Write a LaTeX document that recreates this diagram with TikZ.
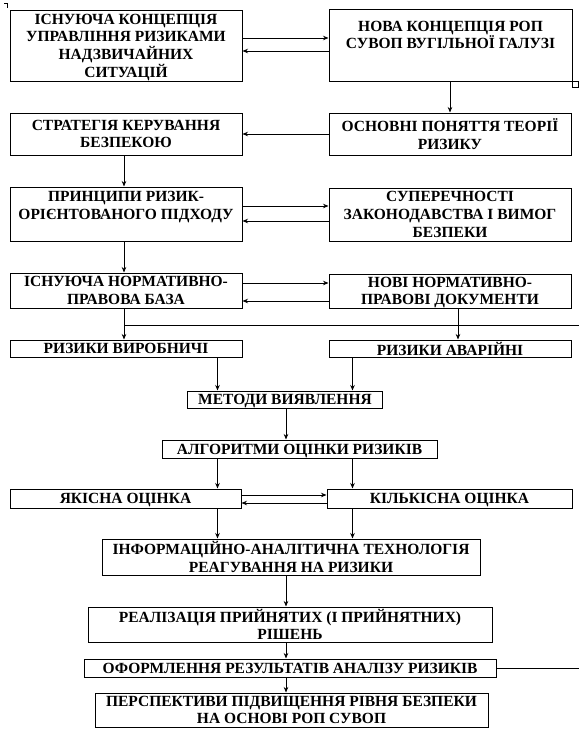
\documentclass[tikz,border=0pt]{standalone}
\usepackage{fontspec}
\setmainfont{Liberation Serif}
\usetikzlibrary{arrows.meta}
\tikzstyle{block} = [rectangle, draw=black, line width=1pt, inner sep=0pt, align=center, text depth=0pt, font=\fontsize{15.5}{17.7}\selectfont\bfseries]
\tikzstyle{arrow} = [line width=0.8pt, -{Stealth[length=5.5pt,width=4.5pt]}]
\tikzstyle{line} = [line width=0.8pt]

\begin{document}
\begin{tikzpicture}[x=1pt, y=-1pt]
        \useasboundingbox (0,0) rectangle (579,729);
        % Columns for the vertical connectors
        \coordinate (colA) at (124,0);
        \coordinate (colN) at (450,0);
        \coordinate (colD) at (458,0);
        \coordinate (colL) at (217.5,0);
        \coordinate (colR) at (352.5,0);
        \coordinate (colM) at (286,0);
        \coordinate (rightA) at (579,325);
        \coordinate (rightB) at (579,668);

        % Nodes
        \node (exist) [block, minimum width=232pt, minimum height=71pt] at (126,45.5) {ІСНУЮЧА КОНЦЕПЦІЯ\\УПРАВЛІННЯ РИЗИКАМИ\\НАДЗВИЧАЙНИХ\\СИТУАЦІЙ};
        \node (newc) [block, minimum width=243pt, minimum height=72pt] at (450.5,45) {НОВА КОНЦЕПЦІЯ РОП\\СУВОП ВУГІЛЬНОЇ ГАЛУЗІ\\[2.5pt]};
        \node (strat) [block, minimum width=232pt, minimum height=42pt] at (126,134) {СТРАТЕГІЯ КЕРУВАННЯ\\БЕЗПЕКОЮ};
        \node (basic) [block, minimum width=242pt, minimum height=42pt] at (450,134) {ОСНОВНІ ПОНЯТТЯ ТЕОРІЇ\\РИЗИКУ};
        \node (princ) [block, minimum width=232pt, minimum height=54pt] at (126,214) {ПРИНЦИПИ РИЗИК-\\ОРІЄНТОВАНОГО ПІДХОДУ\\ \mbox{}};
        \node (contr) [block, minimum width=242pt, minimum height=53pt] at (450,214.5) {СУПЕРЕЧНОСТІ\\ЗАКОНОДАВСТВА І ВИМОГ\\БЕЗПЕКИ};
        \node (base) [block, minimum width=232pt, minimum height=35pt] at (126,290.5) {ІСНУЮЧА НОРМАТИВНО-\\ПРАВОВА БАЗА};
        \node (newdoc) [block, minimum width=242pt, minimum height=34pt] at (450,291) {НОВІ НОРМАТИВНО-\\ПРАВОВІ ДОКУМЕНТИ};
        \node (prod) [block, minimum width=232pt, minimum height=17pt] at (126,348.5) {РИЗИКИ ВИРОБНИЧІ};
        \node (accid) [block, minimum width=242pt, minimum height=17pt] at (450,348.5) {РИЗИКИ АВАРІЙНІ};
        \node (meth) [block, minimum width=195pt, minimum height=17pt] at (285,399.5) {МЕТОДИ ВИЯВЛЕННЯ};
        \node (algo) [block, minimum width=275pt, minimum height=18pt] at (299.5,449) {АЛГОРИТМИ ОЦІНКИ РИЗИКІВ};
        \node (qual) [block, minimum width=231pt, minimum height=19pt] at (125.5,498.5) {ЯКІСНА ОЦІНКА};
        \node (quant) [block, minimum width=245pt, minimum height=19pt] at (449.5,498.5) {КІЛЬКІСНА ОЦІНКА};
        \node (info) [block, minimum width=378pt, minimum height=36pt] at (291,557) {ІНФОРМАЦІЙНО-АНАЛІТИЧНА ТЕХНОЛОГІЯ\\РЕАГУВАННЯ НА РИЗИКИ};
        \node (impl) [block, minimum width=404pt, minimum height=35pt] at (290,624.5) {РЕАЛІЗАЦІЯ ПРИЙНЯТИХ (І ПРИЙНЯТНИХ)\\РІШЕНЬ};
        \node (report) [block, minimum width=412pt, minimum height=18pt] at (290,668) {ОФОРМЛЕННЯ РЕЗУЛЬТАТІВ АНАЛІЗУ РИЗИКІВ};
        \node (persp) [block, minimum width=393pt, minimum height=34pt] at (291.5,710) {ПЕРСПЕКТИВИ ПІДВИЩЕННЯ РІВНЯ БЕЗПЕКИ\\НА ОСНОВІ РОП СУВОП};
        \node (handle) [draw, line width=0.8pt, minimum size=6pt, inner sep=0pt] at (575,84.5) {};
        \draw [line] (4,3) -- (7,3) -- (7,8);

        % Arrows
        \draw [arrow] ([yshift=7.5pt]exist.east) -- ([yshift=7.5pt]exist.east -| newc.west);
        \draw [arrow] ([yshift=-5.5pt]exist.east -| newc.west) -- ([yshift=-5.5pt]exist.east);
        \draw [arrow] (newc.south -| colN) -- (basic.north -| colN);
        \draw [arrow] (basic) -- (strat);
        \draw [arrow] (strat.south -| colA) -- (princ.north -| colA);
        \draw [arrow] ([yshift=8pt]princ.east) -- ([yshift=8pt]princ.east -| contr.west);
        \draw [arrow] ([yshift=-7pt]princ.east -| contr.west) -- ([yshift=-7pt]princ.east);
        \draw [arrow] (princ.south -| colA) -- (base.north -| colA);
        \draw [arrow] ([yshift=7.5pt]base.east) -- ([yshift=7.5pt]base.east -| newdoc.west);
        \draw [arrow] ([yshift=-10.5pt]base.east -| newdoc.west) -- ([yshift=-10.5pt]base.east);
        \draw [arrow] (base.south -| colA) -- (prod.north -| colA);
        \draw [line] (rightA -| colA) -- (rightA);
        \draw [arrow] (newdoc.south -| colD) -- (accid.north -| colD);
        \draw [arrow] (prod.south -| colL) -- (meth.north -| colL);
        \draw [arrow] (accid.south -| colR) -- (meth.north -| colR);
        \draw [arrow] (meth.south -| colM) -- (algo.north -| colM);
        \draw [arrow] (algo.south -| colL) -- (qual.north -| colL);
        \draw [arrow] (algo.south -| colR) -- (quant.north -| colR);
        \draw [arrow] ([yshift=3.5pt]qual.east) -- ([yshift=3.5pt]qual.east -| quant.west);
        \draw [arrow] ([yshift=-4.5pt]qual.east -| quant.west) -- ([yshift=-4.5pt]qual.east);
        \draw [arrow] (qual.south -| colL) -- (info.north -| colL);
        \draw [arrow] (quant.south -| colR) -- (info.north -| colR);
        \draw [arrow] (info.south -| colM) -- (impl.north -| colM);
        \draw [arrow] (impl.south -| colM) -- (report.north -| colM);
        \draw [arrow] (report.south -| colM) -- (persp.north -| colM);
        \draw [line] (report.east) -- (rightB);
    \end{tikzpicture}
\end{document}
